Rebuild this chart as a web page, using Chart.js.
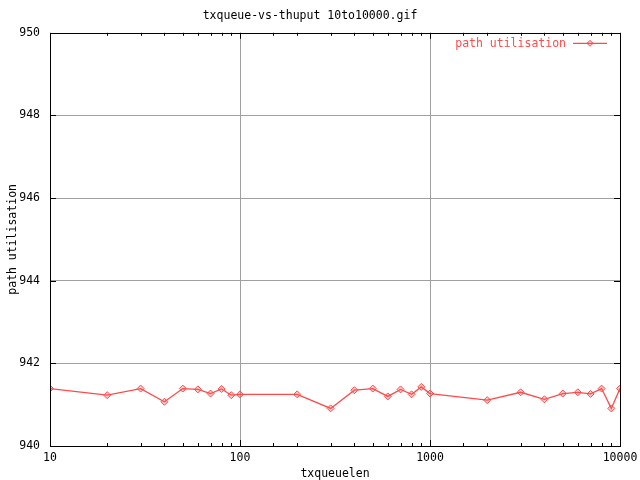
<!DOCTYPE html>
<html>
<head>
<meta charset="utf-8">
<script src="https://cdn.jsdelivr.net/npm/chart.js@4.4.1/dist/chart.umd.min.js"></script>
<style>
body { margin: 0; background: #fff; }
#wrap { width: 640px; height: 480px; }
</style>
</head>
<body>
<div id="wrap"><canvas id="plot" width="640" height="480"></canvas></div>
<script>
var txqueuelen = [10, 20, 30, 40, 50, 60, 70, 80, 90, 100,
    200, 300, 400, 500, 600, 700, 800, 900, 1000,
    2000, 3000, 4000, 5000, 6000, 7000, 8000, 9000, 10000];
var utilisation = [941.39, 941.23, 941.39, 941.07, 941.39, 941.37, 941.27, 941.38, 941.23, 941.25,
    941.25, 940.91, 941.35, 941.39, 941.20, 941.37, 941.25, 941.43, 941.27,
    941.11, 941.30, 941.13, 941.27, 941.30, 941.26, 941.39, 940.91, 941.39];
var xTickLabels = [10, 100, 1000, 10000];
var seriesName = "path utilisation";
var chartTitle = "txqueue-vs-thuput 10to10000.gif";

var red = "#ff4a4a";
var gray = "#a0a0a0";
var font = { family: "DejaVu Sans Mono", size: 11.5, weight: "normal" };

function isDecade(v) {
    return xTickLabels.indexOf(v) >= 0;
}

// gnuplot style frame, inward ticks and the legend inside the plot
var gnuplotFrame = {
    id: "gnuplotFrame",
    afterDatasetsDraw: function(chart) {
        var c = chart.ctx, a = chart.chartArea;
        var xs = chart.scales.x, ys = chart.scales.y;
        c.save();
        c.strokeStyle = "#000";
        c.lineWidth = 1;
        c.beginPath();
        xs.ticks.forEach(function(t) {
            var px = Math.round(xs.getPixelForValue(t.value)) + 0.5;
            var len = isDecade(t.value) ? 6 : 3;
            c.moveTo(px, a.bottom); c.lineTo(px, a.bottom - len);
            c.moveTo(px, a.top); c.lineTo(px, a.top + len);
        });
        ys.ticks.forEach(function(t) {
            var py = Math.round(ys.getPixelForValue(t.value)) + 0.5;
            c.moveTo(a.left, py); c.lineTo(a.left + 6, py);
            c.moveTo(a.right, py); c.lineTo(a.right - 6, py);
        });
        c.stroke();
        c.strokeRect(Math.round(a.left) + 0.5, Math.round(a.top) + 0.5,
            Math.round(a.right - a.left), Math.round(a.bottom - a.top));

        // legend
        var ly = a.top + 10.5;
        c.font = font.size + "px " + font.family;
        c.fillStyle = red;
        c.textAlign = "right";
        c.textBaseline = "middle";
        c.fillText(seriesName, a.right - 54, ly + 1);
        c.strokeStyle = red;
        c.lineWidth = 1.3;
        c.beginPath();
        c.moveTo(a.right - 47, ly); c.lineTo(a.right - 13, ly);
        c.stroke();
        var mx = a.right - 30;
        c.lineWidth = 1;
        c.beginPath();
        c.moveTo(mx, ly - 3); c.lineTo(mx + 3, ly); c.lineTo(mx, ly + 3); c.lineTo(mx - 3, ly);
        c.closePath();
        c.fillStyle = "rgba(255,80,80,0.3)";
        c.fill();
        c.stroke();
        c.restore();
    }
};

var config = {
    type: "line",
    data: {
        datasets: [{
            label: seriesName,
            data: txqueuelen.map(function(x, i) { return { x: x, y: utilisation[i] }; }),
            borderColor: red,
            borderWidth: 1.3,
            backgroundColor: "rgba(255,80,80,0.3)",
            pointStyle: "rectRot",
            pointRadius: 3.5,
            pointBorderWidth: 1,
            pointBorderColor: red,
            tension: 0
        }]
    },
    options: {
        responsive: false,
        animation: false,
        layout: { padding: { top: 0, right: 20, left: 0, bottom: 0 } },
        plugins: {
            legend: { display: false },
            tooltip: { enabled: false },
            title: {
                display: true,
                text: chartTitle,
                color: "#000",
                font: font,
                padding: { top: 9, bottom: 10 }
            }
        },
        scales: {
            x: {
                type: "logarithmic",
                min: 10,
                max: 10000,
                afterFit: function(s) {
                    s.height = 34;
                    s.paddingLeft = 0;
                    s.paddingRight = 0;
                },
                border: { display: false },
                grid: {
                    drawTicks: false,
                    color: function(ctx) {
                        return ctx.tick && (ctx.tick.value === 100 || ctx.tick.value === 1000) ? gray : "rgba(0,0,0,0)";
                    }
                },
                ticks: {
                    autoSkip: false,
                    maxRotation: 0,
                    padding: 5,
                    color: "#000",
                    font: font,
                    callback: function(v) { return isDecade(v) ? String(v) : ""; }
                },
                title: {
                    display: true,
                    text: "txqueuelen",
                    color: "#000",
                    font: font,
                    padding: { top: 0, bottom: -1 }
                }
            },
            y: {
                min: 940,
                max: 950,
                afterFit: function(s) { s.width = 50; },
                border: { display: false },
                grid: {
                    drawTicks: false,
                    color: function(ctx) {
                        return ctx.tick && ctx.tick.value > 940 && ctx.tick.value < 950 ? gray : "rgba(0,0,0,0)";
                    }
                },
                ticks: {
                    stepSize: 2,
                    padding: 10,
                    color: "#000",
                    font: font
                },
                title: {
                    display: true,
                    text: "path utilisation",
                    color: "#000",
                    font: font,
                    padding: { top: 6, bottom: 0 }
                }
            }
        }
    },
    plugins: [gnuplotFrame]
};

var chart = new Chart(document.getElementById("plot"), config);
</script>
</body>
</html>
